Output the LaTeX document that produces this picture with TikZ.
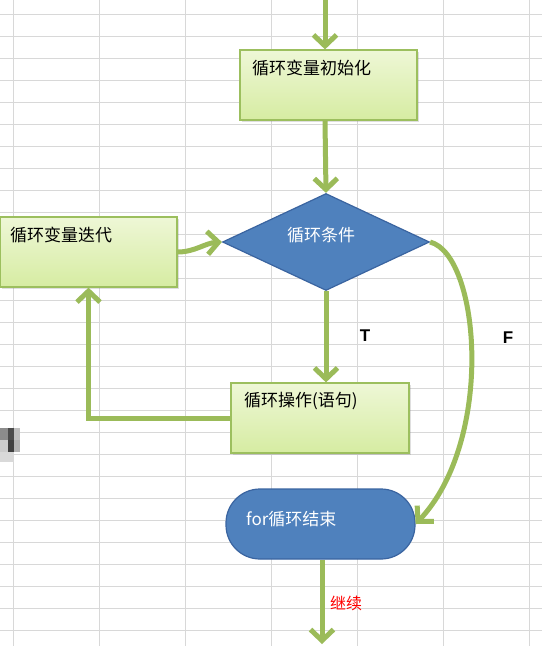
\documentclass[tikz,border=0pt]{standalone}
\usepackage{fontspec}
\setmainfont{Noto Sans CJK SC}
\newfontfamily\latinbold{Liberation Sans}
\usetikzlibrary{arrows.meta,shapes.geometric,shadows}
\definecolor{lgreen}{HTML}{9BBB59}
\definecolor{bgreen}{HTML}{9CBF5E}
\definecolor{boxtop}{HTML}{EEF7D6}
\definecolor{boxbot}{HTML}{D6ECA2}
\definecolor{dblue}{HTML}{4F81BD}
\definecolor{dblueb}{HTML}{3A64A0}
\definecolor{gridc}{HTML}{D8D8D8}
\tikzset{
  flow/.style={draw=lgreen, line width=5pt, -{Straight Barb[length=11pt,width=23pt,line width=5pt]}},
  gbox/.style={draw=bgreen, line width=1.2pt, top color=boxtop, bottom color=boxbot, minimum width=177pt, minimum height=70pt, inner sep=0pt,
    drop shadow={opacity=0.25, shadow xshift=1.5pt, shadow yshift=-1.5pt}},
  blueshape/.style={draw=dblueb, line width=1.2pt, fill=dblue, inner sep=0pt},
  btext/.style={anchor=west, inner sep=0pt, font=\fontsize{17}{19}\selectfont, text=black},
  wtext/.style={anchor=west, inner sep=0pt, font=\fontsize{17}{19}\selectfont, text=white},
  tflabel/.style={inner sep=0pt, font=\latinbold\bfseries\fontsize{17}{19}\selectfont},
}
\begin{document}
\begin{tikzpicture}[x=1pt,y=-1pt]
\useasboundingbox (0,0) rectangle (542,646);
\fill[white] (0,0) rectangle (542,646);
% spreadsheet grid
\foreach \gx in {13,99,185,271,357,443,529} \draw[gridc, line width=1pt] (\gx,0) -- (\gx,646);
\foreach \k in {0,...,29} \draw[gridc, line width=1pt] (0,14+22*\k) -- (542,14+22*\k);
% blurred mark at the left
\fill[black!45] (0,428) rectangle (8,440);
\fill[black!70] (8,428) rectangle (14,440);
\fill[black!25] (14,428) rectangle (20,440);
\fill[black!20] (0,440) rectangle (8,452);
\fill[black!75] (8,440) rectangle (14,452);
\fill[black!30] (14,440) rectangle (20,452);
\fill[black!15] (0,452) rectangle (14,462);

% shapes
\node[gbox] (init) at (328.5,85) {};
\node[gbox] (iter) at (88.5,252) {};
\node[gbox, minimum width=178pt] (op) at (320,418) {};
\node[blueshape, shape=diamond, minimum width=207pt, minimum height=97pt] (cond) at (326,242) {};
\node[blueshape, rectangle, rounded corners=34pt, minimum width=189pt, minimum height=70pt] (term) at (320.5,524) {};

% texts
\node[btext] (tinit) at (252,68) {循环变量初始化};
\node[btext] (titer) at (10,235) {循环变量迭代};
\node[btext] (top) at (244,401) {循环操作(语句)};
\node[wtext, anchor=center] (tcond) at (321,235) {循环条件};
\node[wtext] (tterm) at (246,519) {for循环结束};

% connectors
\coordinate (start) at (325,0);
\coordinate (endpt) at (322,644);
\draw[flow] (start) -- (start |- init.north);
\draw[flow] (init.south -| start) -- (cond.north);
\draw[flow] (cond.south) -- (cond.south |- op.north);
\node[tflabel] (lt) at (365,336) {T};
\draw[flow] (op.west) -| (iter.south);
\draw[flow] (iter.east) .. controls (195,252) and (205,243) .. (cond.west);
\draw[flow] (cond.east) .. controls (480,255) and (495,440) .. (term.east);
\node[tflabel] (lf) at (508,338) {F};
\draw[flow] (term.south -| endpt) -- (endpt);
\node[inner sep=0pt, text=red, font=\fontsize{16}{18}\selectfont, anchor=west] (lgo) at (330,603) {继续};
\end{tikzpicture}
\end{document}
